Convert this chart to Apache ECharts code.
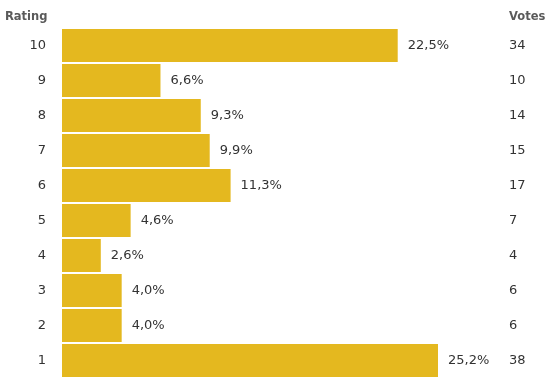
<!DOCTYPE html>
<html><head><meta charset="utf-8">
<script src="https://cdn.jsdelivr.net/npm/echarts@6/dist/echarts.min.js"></script>
<style>html,body{margin:0;padding:0;background:#fff}#c{width:554px;height:390px}</style>
</head><body><div id="c"></div>
<script>
const ratings = ['10','9','8','7','6','5','4','3','2','1'];
const percents = [22.5, 6.6, 9.3, 9.9, 11.3, 4.6, 2.6, 4.0, 4.0, 25.2];
const votes = [34, 10, 14, 15, 17, 7, 4, 6, 6, 38];
const headers = ['Rating', 'Votes'];

const chart = echarts.init(document.getElementById('c'), null, {renderer: 'canvas'});
const font = '"DejaVu Sans"';
chart.setOption({
  animation: false,
  graphic: [
    {type: 'text', left: 5, top: 11, style: {text: headers[0], fontFamily: font, fontWeight: 'bold', fontSize: 11.5, fill: '#5a5a5a'}},
    {type: 'text', left: 509, top: 11, style: {text: headers[1], fontFamily: font, fontWeight: 'bold', fontSize: 11.5, fill: '#5a5a5a'}}
  ],
  grid: {left: 62, top: 28, width: 376, height: 350, containLabel: false},
  xAxis: {type: 'value', min: 0, max: 25.2, show: false},
  yAxis: [
    {type: 'category', data: ratings, inverse: true,
     axisLine: {show: false}, axisTick: {show: false},
     axisLabel: {fontFamily: font, fontSize: 13, color: '#333', margin: 16, align: 'right'}},
    {type: 'category', data: votes.map(String), inverse: true, position: 'right',
     axisLine: {show: false}, axisTick: {show: false},
     axisLabel: {fontFamily: font, fontSize: 13, color: '#333', margin: 71, align: 'left'}}
  ],
  series: [{
    type: 'bar', data: percents, barWidth: 33,
    itemStyle: {color: '#e4b81f'},
    label: {show: true, position: 'right', distance: 10, fontFamily: font, fontSize: 13, color: '#333',
      formatter: p => p.value.toFixed(1).replace('.', ',') + '%'}
  }]
});
</script></body></html>
